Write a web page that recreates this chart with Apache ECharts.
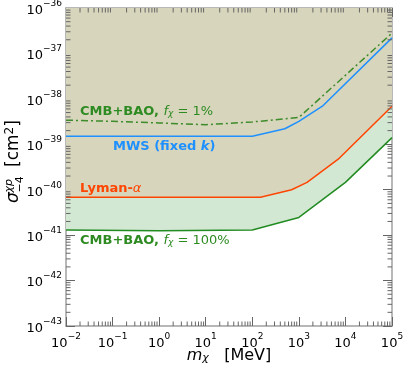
<!DOCTYPE html>
<html style="height: 100%">
<head>
    <meta charset="utf-8">
    <script src="https://cdn.jsdelivr.net/npm/echarts@6/dist/echarts.min.js"></script>
</head>
<body style="height: 100%; margin: 0">
    <div id="main" style="width: 407px; height: 368px"></div>
    <script type="text/javascript">
        // mass [MeV] and cross section [cm^2]
        var massCmb1 = [1e-2, 1e-1, 1, 1e1, 1e2, 1e3, 1e5];
        var sigmaCmb1 = [3.4e-39, 3.2e-39, 2.95e-39, 2.7e-39, 3.1e-39, 3.9e-39, 2.8e-37];

        var massMws = [1e-2, 1e2, 5e2, 1e3, 3.2e3, 1e5];
        var sigmaMws = [1.5e-39, 1.5e-39, 2.2e-39, 3.2e-39, 6.9e-39, 2.2e-37];

        var massLya = [1e-2, 1.5e2, 7e2, 1.5e3, 7e3, 1e5];
        var sigmaLya = [6.8e-41, 6.8e-41, 1.0e-40, 1.45e-40, 4.7e-40, 6.9e-39];

        var massCmb100 = [1e-2, 1, 1e2, 1e3, 1e4, 1e5];
        var sigmaCmb100 = [1.3e-41, 1.25e-41, 1.3e-41, 2.45e-41, 1.45e-40, 1.4e-39];

        // echarts rounds tiny log ticks to 0, so the y axis runs in units of 1e-40 cm^2
        var yUnitExp = -40;
        var yUnit = 1e-40;

        var xMin = 1e-2, xMax = 1e5;
        var yMin = 1e-43 / yUnit, yMax = 1e-36 / yUnit;

        function pairs(xs, ys) {
            return xs.map(function (x, i) { return [x, ys[i] / yUnit]; });
        }

        // minor tick positions 2..9 in each decade
        function minorValues(lo, hi) {
            var out = [];
            for (var d = lo; d < hi; d++) {
                for (var k = 2; k <= 9; k++) out.push(k * Math.pow(10, d));
            }
            return out;
        }
        var xMinor = minorValues(-2, 5).map(function (v) { return [v, yMin]; });
        var yMinor = minorValues(-3, 4).map(function (v) { return [xMin, v]; });

        var tickColor = '#666';
        var frameColor = '#a0a0a0';

        function supText(e) {
            return e < 0 ? '\u2212' + (-e) : '' + e;
        }
        var labelRich = {
            b: { fontSize: 13, color: '#000', fontFamily: 'DejaVu Sans', lineHeight: 18, verticalAlign: 'bottom' },
            s: { fontSize: 9, color: '#000', fontFamily: 'DejaVu Sans', lineHeight: 18, verticalAlign: 'top' }
        };

        var chartDom = document.getElementById('main');
        var myChart = echarts.init(chartDom);
        var option;

        function tickLine(x1, y1, x2, y2) {
            return {
                type: 'line',
                shape: { x1: x1, y1: y1, x2: x2, y2: y2 },
                style: { stroke: tickColor, lineWidth: 1 }
            };
        }

        // polygon from the curve up to the top of the plot
        function fillAbove(data, color) {
            return function (params, api) {
                if (params.dataIndex !== 0) return null;
                var pts = data.map(function (d) { return api.coord(d); });
                pts.push(api.coord([data[data.length - 1][0], yMax]));
                pts.push(api.coord([data[0][0], yMax]));
                return { type: 'polygon', shape: { points: pts }, style: { fill: color } };
            };
        }

        var dataCmb100 = pairs(massCmb100, sigmaCmb100);
        var dataLya = pairs(massLya, sigmaLya);

        option = {
            animation: false,
            backgroundColor: '#fff',
            grid: { left: 66, right: 15, top: 8, bottom: 42, outerBoundsMode: 'none' },
            xAxis: [
                {
                    type: 'log', logBase: 10, min: xMin, max: xMax, interval: 1,
                    name: '{i|m}{sub|\u03c7}   [MeV]',
                    nameLocation: 'middle', nameGap: 21, nameMoveOverlap: false,
                    nameTextStyle: {
                        rich: {
                            i: { fontSize: 16, fontStyle: 'italic', fontFamily: 'DejaVu Sans', color: '#000' },
                            sub: { fontSize: 11, fontStyle: 'italic', fontFamily: 'DejaVu Sans', color: '#000', verticalAlign: 'bottom', padding: [6, 0, 0, 0] }
                        },
                        fontSize: 16, fontFamily: 'DejaVu Sans', color: '#000'
                    },
                    axisLine: { lineStyle: { color: frameColor, width: 1.5 } },
                    axisTick: { inside: true, length: 9, lineStyle: { color: tickColor } },
                    axisLabel: {
                        formatter: function (v) {
                            return '{b|10}{s|' + supText(Math.round(Math.log10(v))) + '}';
                        },
                        rich: labelRich, margin: 6
                    },
                    splitLine: { show: false }
                },
                {
                    type: 'log', logBase: 10, min: xMin, max: xMax, interval: 1, position: 'top',
                    axisLine: { lineStyle: { color: frameColor, width: 1.5 } },
                    axisTick: { inside: true, length: 9, lineStyle: { color: tickColor } },
                    axisLabel: { show: false },
                    splitLine: { show: false }
                }
            ],
            yAxis: [
                {
                    type: 'log', logBase: 10, min: yMin, max: yMax, interval: 1,
                    axisLine: { lineStyle: { color: frameColor, width: 1.5 } },
                    axisTick: { inside: true, length: 9, lineStyle: { color: tickColor } },
                    axisLabel: {
                        formatter: function (v) {
                            return '{b|10}{s|' + supText(Math.round(Math.log10(v)) + yUnitExp) + '}';
                        },
                        rich: labelRich, margin: 4
                    },
                    splitLine: { show: false }
                },
                {
                    type: 'log', logBase: 10, min: yMin, max: yMax, interval: 1, position: 'right',
                    axisLine: { lineStyle: { color: frameColor, width: 1.5 } },
                    axisTick: { inside: true, length: 9, lineStyle: { color: tickColor } },
                    axisLabel: { show: false },
                    splitLine: { show: false }
                }
            ],
            series: [
                {
                    type: 'custom', data: dataCmb100, z: 1, silent: true,
                    encode: { x: 0, y: 1 },
                    renderItem: fillAbove(dataCmb100, '#d3e8d3')
                },
                {
                    type: 'custom', data: dataLya, z: 1, silent: true,
                    encode: { x: 0, y: 1 },
                    renderItem: fillAbove(dataLya, '#d7d5bc')
                },
                {
                    name: 'CMB+BAO 100%', type: 'line', data: dataCmb100,
                    symbol: 'none', z: 3,
                    lineStyle: { color: '#228b22', width: 1.5 }
                },
                {
                    name: 'Lyman-alpha', type: 'line', data: dataLya,
                    symbol: 'none', z: 3,
                    lineStyle: { color: '#ff4500', width: 1.5 }
                },
                {
                    name: 'MWS', type: 'line', data: pairs(massMws, sigmaMws),
                    symbol: 'none', z: 4,
                    lineStyle: { color: '#1e90ff', width: 1.5 }
                },
                {
                    name: 'CMB+BAO 1%', type: 'line', data: pairs(massCmb1, sigmaCmb1),
                    symbol: 'none', z: 4,
                    lineStyle: { color: '#3d8b2a', width: 1.5, type: [7, 3, 2, 3] }
                },
                {
                    // minor ticks on bottom and top
                    type: 'custom', data: xMinor, z: 10, silent: true,
                    encode: { x: 0, y: 1 },
                    renderItem: function (params, api) {
                        var v = xMinor[params.dataIndex][0];
                        var b = api.coord([v, yMin]);
                        var t = api.coord([v, yMax]);
                        return {
                            type: 'group',
                            children: [tickLine(b[0], b[1], b[0], b[1] - 4.5), tickLine(t[0], t[1], t[0], t[1] + 4.5)]
                        };
                    }
                },
                {
                    // minor ticks on left and right
                    type: 'custom', data: yMinor, z: 10, silent: true,
                    encode: { x: 0, y: 1 },
                    renderItem: function (params, api) {
                        var v = yMinor[params.dataIndex][1];
                        var l = api.coord([xMin, v]);
                        var r = api.coord([xMax, v]);
                        return {
                            type: 'group',
                            children: [tickLine(l[0], l[1], l[0] + 4.5, l[1]), tickLine(r[0], r[1], r[0] - 4.5, r[1])]
                        };
                    }
                }
            ],
            graphic: [
                {
                    // y axis title, rotated to read bottom to top
                    type: 'group', x: 14, y: 158, rotation: Math.PI / 2, z: 20,
                    children: [
                        {
                            type: 'text', x: -45, y: 0,
                            style: { text: '\u03c3', fontSize: 17, fontStyle: 'italic', fontFamily: 'DejaVu Sans', fill: '#000', align: 'left', verticalAlign: 'middle' }
                        },
                        {
                            type: 'text', x: -34.5, y: -5,
                            style: { text: '\u03c7p', fontSize: 11, fontStyle: 'italic', fontFamily: 'DejaVu Sans', fill: '#000', align: 'left', verticalAlign: 'middle' }
                        },
                        {
                            type: 'text', x: -34.5, y: 6,
                            style: { text: '\u22124', fontSize: 11, fontFamily: 'DejaVu Sans', fill: '#000', align: 'left', verticalAlign: 'middle' }
                        },
                        {
                            type: 'text', x: -9, y: 0,
                            style: {
                                text: '{m|[cm}{sq|2}{m|]}', align: 'left', verticalAlign: 'middle',
                                rich: {
                                    m: { fontSize: 17, fontFamily: 'DejaVu Sans', fill: '#000' },
                                    sq: { fontSize: 12, fontFamily: 'DejaVu Sans', fill: '#000', verticalAlign: 'top', padding: [0, 0, 8, 0] }
                                }
                            }
                        }
                    ]
                },
                {
                    type: 'text', left: 80, top: 105, z: 20,
                    style: {
                        text: '{b|CMB+BAO, }{i|f}{s|\u03c7}{n| = 1%}',
                        rich: {
                            b: { fontSize: 13, fontWeight: 'bold', fill: '#2e8b22', fontFamily: 'DejaVu Sans' },
                            i: { fontSize: 13, fontStyle: 'italic', fill: '#2e8b22', fontFamily: 'DejaVu Sans' },
                            s: { fontSize: 9, fontStyle: 'italic', fill: '#2e8b22', fontFamily: 'DejaVu Sans', verticalAlign: 'bottom', padding: [5, 0, 0, 0] },
                            n: { fontSize: 13, fill: '#2e8b22', fontFamily: 'DejaVu Sans' }
                        }
                    }
                },
                {
                    type: 'text', left: 113, top: 140, z: 20,
                    style: {
                        text: '{b|MWS (fixed }{i|k}{b|)}',
                        rich: {
                            b: { fontSize: 13, fontWeight: 'bold', fill: '#1e90ff', fontFamily: 'DejaVu Sans' },
                            i: { fontSize: 13, fontWeight: 'bold', fontStyle: 'italic', fill: '#1e90ff', fontFamily: 'DejaVu Sans' }
                        }
                    }
                },
                {
                    type: 'text', left: 80, top: 182, z: 20,
                    style: {
                        text: '{b|Lyman-}{i|\u03b1}',
                        rich: {
                            b: { fontSize: 13, fontWeight: 'bold', fill: '#ff4500', fontFamily: 'DejaVu Sans' },
                            i: { fontSize: 13, fontStyle: 'italic', fill: '#ff4500', fontFamily: 'DejaVu Sans' }
                        }
                    }
                },
                {
                    type: 'text', left: 80, top: 234, z: 20,
                    style: {
                        text: '{b|CMB+BAO, }{i|f}{s|\u03c7}{n| = 100%}',
                        rich: {
                            b: { fontSize: 13, fontWeight: 'bold', fill: '#2e8b22', fontFamily: 'DejaVu Sans' },
                            i: { fontSize: 13, fontStyle: 'italic', fill: '#2e8b22', fontFamily: 'DejaVu Sans' },
                            s: { fontSize: 9, fontStyle: 'italic', fill: '#2e8b22', fontFamily: 'DejaVu Sans', verticalAlign: 'bottom', padding: [5, 0, 0, 0] },
                            n: { fontSize: 13, fill: '#2e8b22', fontFamily: 'DejaVu Sans' }
                        }
                    }
                }
            ]
        };

        option && myChart.setOption(option);
    </script>
</body>
</html>
